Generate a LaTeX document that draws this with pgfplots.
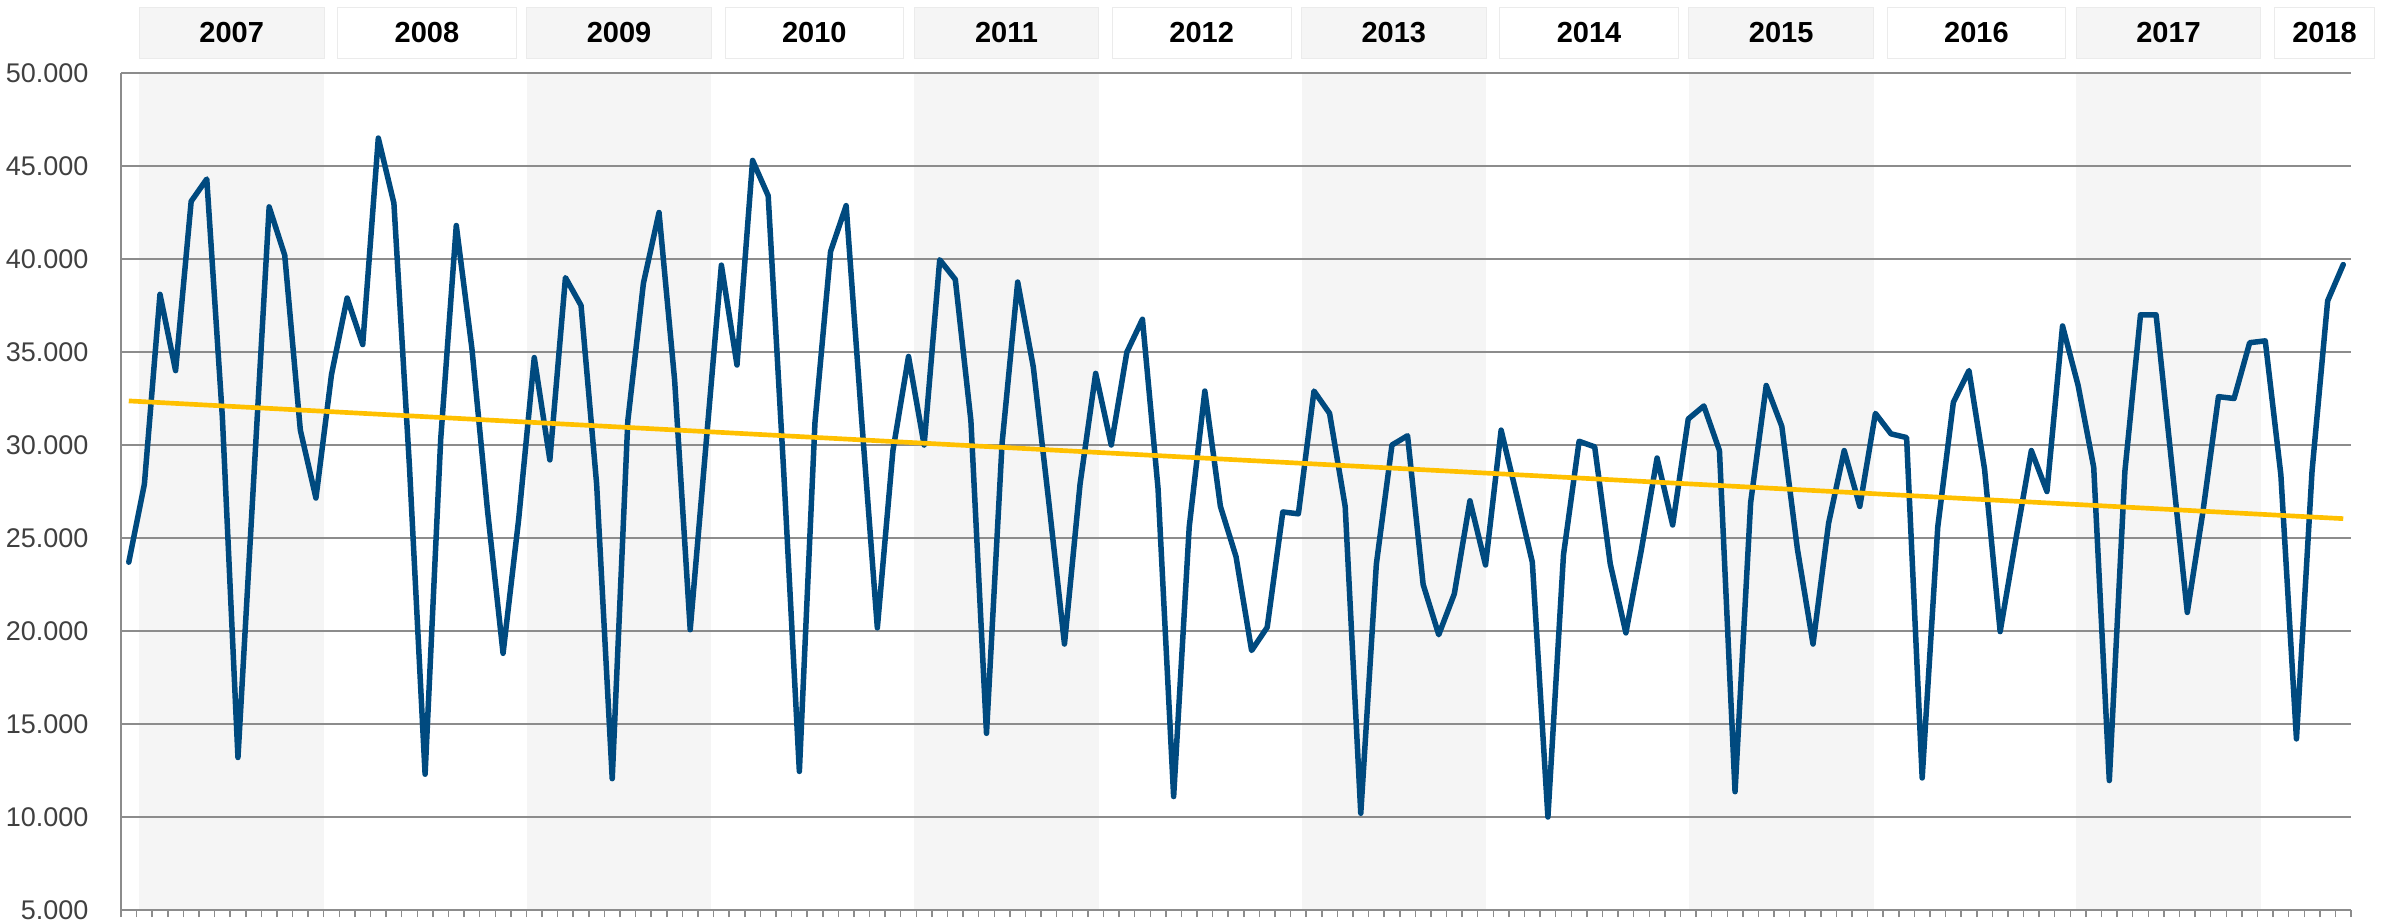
\documentclass[border=0pt]{standalone}
\usepackage{fontspec}
\setmainfont{Liberation Sans}
\usepackage{pgfplots}
\usepackage{pgfplotstable}
\pgfplotsset{compat=1.18}
\definecolor{lineblue}{HTML}{004A7F}
\definecolor{trendyellow}{HTML}{FFC000}
\definecolor{shadegray}{HTML}{F5F5F5}
\definecolor{boxborder}{HTML}{EBEBEB}
\definecolor{gridgray}{HTML}{8C8C8C}
\definecolor{labelgray}{HTML}{404040}

\pgfplotstableread{
x y
0 23700
1 27900
2 38100
3 34000
4 43100
5 44300
6 31500
7 13200
8 28000
9 42800
10 40200
11 30800
12 27150
13 33800
14 37900
15 35400
16 46500
17 43000
18 28800
19 12300
20 30300
21 41800
22 35200
23 26500
24 18800
25 26000
26 34700
27 29200
28 39000
29 37500
30 27900
31 12060
32 31300
33 38700
34 42500
35 33500
36 20070
37 29900
38 39670
39 34300
40 45300
41 43400
42 28500
43 12450
44 31200
45 40400
46 42870
47 31300
48 20170
49 29700
50 34760
51 30000
52 39960
53 38900
54 31300
55 14500
56 30100
57 38760
58 34200
59 26900
60 19300
61 27900
62 33850
63 30000
64 34990
65 36760
66 27660
67 11100
68 25600
69 32900
70 26700
71 24000
72 18950
73 20200
74 26400
75 26300
76 32900
77 31700
78 26700
79 10200
80 23600
81 30000
82 30500
83 22500
84 19800
85 22000
86 27000
87 23550
88 30800
89 27300
90 23700
91 10000
92 24100
93 30200
94 29900
95 23600
96 19900
97 24400
98 29300
99 25700
100 31400
101 32100
102 29700
103 11360
104 26900
105 33200
106 31000
107 24400
108 19300
109 25800
110 29700
111 26700
112 31700
113 30600
114 30400
115 12100
116 25600
117 32300
118 34000
119 28700
120 19970
121 24900
122 29700
123 27500
124 36400
125 33200
126 28800
127 11960
128 28600
129 37000
130 37000
131 29000
132 21000
133 26400
134 32600
135 32500
136 35500
137 35600
138 28400
139 14200
140 28600
141 37750
142 39700
}\datatable

\pgfplotstableread{
x y
0 32370
142 26040
}\trendtable

\begin{document}
\begin{tikzpicture}
\begin{axis}[
  set layers,
  scale only axis,
  width=669pt, height=251.1pt,
  at={(36.3pt,3.3pt)}, anchor=south west,
  xmin=-0.5, xmax=142.5,
  ymin=5000, ymax=50000,
  clip=false,
  axis x line*=bottom, axis y line*=left,
  axis line style={draw=gridgray, line width=0.5pt},
  ytick={5000,10000,...,50000},
  ymajorgrids,
  major grid style={draw=gridgray, line width=0.5pt},
  xtick={-0.5,0.5,...,142.5},
  xticklabels={},
  tick align=outside,
  major tick length=2.1pt,
  xtick style={draw=gridgray, line width=0.45pt},
  ytick style={draw=none},
  scaled y ticks=false,
  yticklabel style={font=\fontsize{8.1}{9}\selectfont, text=labelgray, anchor=east, inner sep=0pt, xshift=-7.5pt},
  /pgf/number format/fixed,
  /pgf/number format/1000 sep={.},
  /pgf/number format/assume math mode=true,
]
\begin{pgfonlayer}{axis background}
\fill[shadegray] (axis cs:0.68,5000) rectangle (axis cs:12.52,50000);
\fill[shadegray] (axis cs:25.52,5000) rectangle (axis cs:37.36,50000);
\fill[shadegray] (axis cs:50.36,5000) rectangle (axis cs:62.20,50000);
\fill[shadegray] (axis cs:75.20,5000) rectangle (axis cs:87.04,50000);
\fill[shadegray] (axis cs:100.04,5000) rectangle (axis cs:111.88,50000);
\fill[shadegray] (axis cs:124.88,5000) rectangle (axis cs:136.72,50000);
\end{pgfonlayer}

% year boxes
\filldraw[fill=shadegray, draw=boxborder, line width=0.3pt] (axis cs:0.68,50753) rectangle (axis cs:12.52,53548);
\filldraw[fill=white, draw=boxborder, line width=0.3pt] (axis cs:13.40,50753) rectangle (axis cs:24.85,53548);
\filldraw[fill=shadegray, draw=boxborder, line width=0.3pt] (axis cs:25.52,50753) rectangle (axis cs:37.36,53548);
\filldraw[fill=white, draw=boxborder, line width=0.3pt] (axis cs:38.24,50753) rectangle (axis cs:49.69,53548);
\filldraw[fill=shadegray, draw=boxborder, line width=0.3pt] (axis cs:50.36,50753) rectangle (axis cs:62.20,53548);
\filldraw[fill=white, draw=boxborder, line width=0.3pt] (axis cs:63.08,50753) rectangle (axis cs:74.53,53548);
\filldraw[fill=shadegray, draw=boxborder, line width=0.3pt] (axis cs:75.20,50753) rectangle (axis cs:87.04,53548);
\filldraw[fill=white, draw=boxborder, line width=0.3pt] (axis cs:87.92,50753) rectangle (axis cs:99.37,53548);
\filldraw[fill=shadegray, draw=boxborder, line width=0.3pt] (axis cs:100.04,50753) rectangle (axis cs:111.88,53548);
\filldraw[fill=white, draw=boxborder, line width=0.3pt] (axis cs:112.76,50753) rectangle (axis cs:124.21,53548);
\filldraw[fill=shadegray, draw=boxborder, line width=0.3pt] (axis cs:124.88,50753) rectangle (axis cs:136.72,53548);
\filldraw[fill=white, draw=boxborder, line width=0.3pt] (axis cs:137.60,50753) rectangle (axis cs:144.00,53548);

\begin{scope}[every node/.style={font=\bfseries\fontsize{8.7}{10}\selectfont, text=black}]
\node at (axis cs:6.60,52150) {2007};
\node at (axis cs:19.12,52150) {2008};
\node at (axis cs:31.44,52150) {2009};
\node at (axis cs:43.96,52150) {2010};
\node at (axis cs:56.28,52150) {2011};
\node at (axis cs:68.80,52150) {2012};
\node at (axis cs:81.12,52150) {2013};
\node at (axis cs:93.64,52150) {2014};
\node at (axis cs:105.96,52150) {2015};
\node at (axis cs:118.48,52150) {2016};
\node at (axis cs:130.80,52150) {2017};
\node at (axis cs:140.80,52150) {2018};
\end{scope}

\addplot[lineblue, line width=1.65pt, line join=round, line cap=round] table[x=x,y=y] {\datatable};
\addplot[trendyellow, line width=1.4pt] table[x=x,y=y] {\trendtable};
\end{axis}
\pgfresetboundingbox
\useasboundingbox (0,0) rectangle (716.1pt,276.3pt);
\end{tikzpicture}
\end{document}
